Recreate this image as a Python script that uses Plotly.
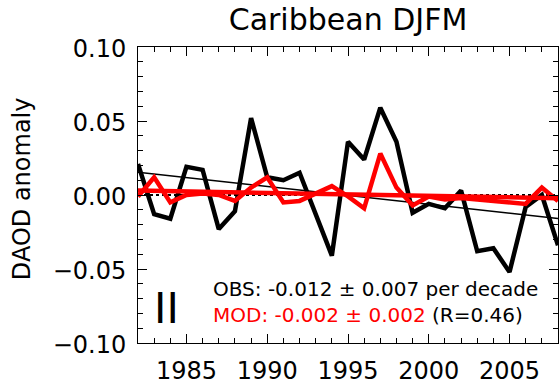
import numpy as np
import plotly.graph_objects as go

# Yearly DJFM dust AOD anomalies over the Caribbean
years = list(range(1982, 2009))
obs = [0.021, -0.013, -0.016, 0.019, 0.017, -0.023, -0.011, 0.052, 0.012, 0.010,
       0.015, -0.013, -0.041, 0.036, 0.024, 0.059, 0.036, -0.012, -0.006, -0.009,
       0.003, -0.038, -0.036, -0.052, -0.008, 0.000, -0.034]
mod = [-0.001, 0.012, -0.005, 0.000, 0.001, 0.000, -0.004, 0.005, 0.012, -0.005,
       -0.004, 0.001, 0.006, -0.001, -0.009, 0.028, 0.005, -0.007, -0.001, -0.003,
       -0.002, -0.003, -0.004, -0.005, -0.006, 0.005, -0.004]

# Linear trends (per decade) and their uncertainties
obs_trend, obs_err = -0.012, 0.007
mod_trend, mod_err = -0.002, 0.002
corr_r = 0.46

x_ticks = [1985, 1990, 1995, 2000, 2005]
y_ticks = [-0.10, -0.05, 0.00, 0.05, 0.10]

FONT = "DejaVu Sans"


def trend_line(values, per_decade):
    yrs = np.array(years, dtype=float)
    vals = np.array(values, dtype=float)
    slope = per_decade / 10.0
    return vals.mean() + slope * (yrs - yrs.mean())


fig = go.Figure()

# zero reference
fig.add_trace(go.Scatter(x=[years[0], years[-1]], y=[0, 0], mode="lines",
                         line=dict(color="black", width=2, dash="dot"),
                         hoverinfo="skip", showlegend=False))
# observations and their trend
fig.add_trace(go.Scatter(x=years, y=obs, mode="lines",
                         line=dict(color="black", width=4.5), showlegend=False))
fig.add_trace(go.Scatter(x=years, y=trend_line(obs, obs_trend), mode="lines",
                         line=dict(color="black", width=1.5), showlegend=False))
# model and its trend
fig.add_trace(go.Scatter(x=years, y=mod, mode="lines",
                         line=dict(color="#ff0000", width=4.5), showlegend=False))
fig.add_trace(go.Scatter(x=years, y=trend_line(mod, mod_trend), mode="lines",
                         line=dict(color="#ff0000", width=4.5), showlegend=False))

axis_common = dict(
    showgrid=False, zeroline=False, showline=True, linecolor="black", linewidth=1,
    mirror="ticks", ticks="inside", tickcolor="black", tickwidth=1, ticklen=9,
    tickfont=dict(family=FONT, size=24, color="black"),
)

fig.update_xaxes(range=[years[0], years[-1]], tickvals=x_ticks,
                 ticklabelstandoff=6,
                 minor=dict(dtick=1, ticks="inside", ticklen=5, tickcolor="black",
                            tickwidth=1, showgrid=False),
                 **axis_common)
fig.update_yaxes(range=[-0.10, 0.10], tickvals=y_ticks, tickformat=".2f",
                 ticklabelstandoff=6, ticklabelshift=2,
                 minor=dict(dtick=0.01, tick0=0, ticks="inside", ticklen=5,
                            tickcolor="black", tickwidth=1, showgrid=False),
                 **axis_common)

fig.add_annotation(text="DAOD anomaly", xref="paper", yref="paper",
                   x=-0.276, y=0.52, textangle=-90, showarrow=False,
                   xanchor="center", yanchor="middle",
                   font=dict(family=FONT, size=24, color="black"))
fig.add_annotation(text=f"OBS: {obs_trend:.3f} \u00b1 {obs_err:.3f} per decade",
                   xref="paper", yref="paper", x=0.174, y=0.182,
                   xanchor="left", yanchor="middle", showarrow=False,
                   font=dict(family=FONT, size=20, color="black"))
fig.add_annotation(text=(f"<span style='color:#ff0000'>MOD: {mod_trend:.3f} \u00b1 "
                         f"{mod_err:.3f}</span> (R={corr_r:.2f})"),
                   xref="paper", yref="paper", x=0.174, y=0.095,
                   xanchor="left", yanchor="middle", showarrow=False,
                   font=dict(family=FONT, size=20, color="black"))
fig.add_annotation(text="II", xref="paper", yref="paper", x=0.069, y=0.118,
                   xanchor="center", yanchor="middle", showarrow=False,
                   font=dict(family=FONT, size=42, color="black"))

fig.update_layout(
    width=559, height=389, autosize=False,
    margin=dict(l=138, r=1, t=47, b=46),
    paper_bgcolor="white", plot_bgcolor="white",
    title=dict(text="Caribbean DJFM", x=0.5, xref="paper", xanchor="center",
               y=1 - 19 / 389, yref="container", yanchor="middle",
               font=dict(family=FONT, size=30, color="black")),
    showlegend=False,
)

fig.write_html("out.html")
